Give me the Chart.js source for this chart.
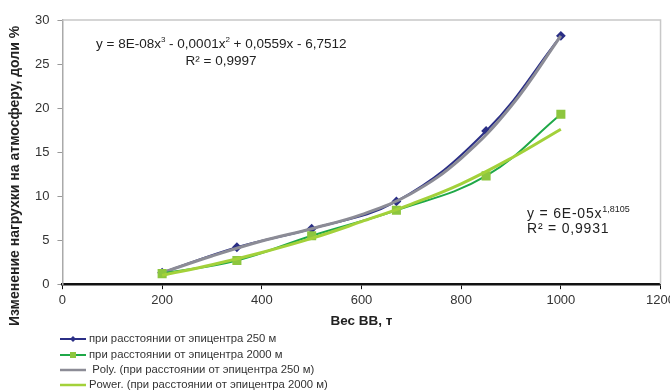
<!DOCTYPE html>
<html>
<head>
<meta charset="utf-8">
<script src="https://cdn.jsdelivr.net/npm/chart.js@4"></script>
<style>
  html, body { margin: 0; padding: 0; background: #fff; overflow: hidden; }
  #wrap { width: 678px; height: 390px; }
</style>
</head>
<body>
<div id="wrap"><canvas id="chart"></canvas></div>
<script>
// data
const weights = [200, 350, 500, 670, 850, 1000];
const load250 = [1.3, 4.2, 6.3, 9.4, 17.4, 28.2];
const load2000 = [1.2, 2.7, 5.5, 8.4, 12.3, 19.3];
const trendX = [200, 300, 400, 500, 600, 700, 800, 900, 1000];
const polyTrend = [1.3, 3.2, 4.9, 6.3, 7.9, 10.3, 14.3, 20.2, 28.2];
const powerTrend = [1.0, 2.2, 3.6, 5.2, 7.1, 9.1, 11.4, 14.3, 17.6];
const legendLabels = [
    'при расстоянии от эпицентра 250 м',
    'при расстоянии от эпицентра 2000 м',
    ' Poly. (при расстоянии от эпицентра 250 м)',
    'Power. (при расстоянии от эпицентра 2000 м)'
];
const yTitle = 'Изменение нагрухки на атмосферу, доли %';

const FONT = '"Liberation Sans", Arial, sans-serif';
const NAVY = '#2b2f86';
const GREEN = '#1fa848';
const LIME = '#8dc63f';
const GREY = '#8c8c96';
const LIMELINE = '#a3d13a';

function pts(xs, ys) {
    return xs.map((x, i) => ({x: x, y: ys[i]}));
}

function drawParts(c, parts, x, y, size, supSize, spacing) {
    parts.forEach(p => {
        c.font = (p[1] ? supSize : size) + 'px ' + FONT;
        c.letterSpacing = p[1] ? '0px' : spacing;
        c.fillText(p[0], x, p[1] ? y - size * 0.42 : y);
        x += c.measureText(p[0]).width;
    });
}

const extras = {
    id: 'extras',
    beforeDatasetsDraw(chart) {
        const c = chart.ctx, a = chart.chartArea;
        c.save();
        c.strokeStyle = '#c8c8c8';
        c.lineWidth = 1.5;
        c.beginPath();
        c.moveTo(a.left, a.top);
        c.lineTo(a.right, a.top);
        c.lineTo(a.right, a.bottom);
        c.stroke();
        c.restore();
    },
    afterDraw(chart) {
        const c = chart.ctx;
        c.save();
        // y axis title
        c.save();
        c.translate(15, 176);
        c.rotate(-Math.PI / 2);
        c.font = 'bold 14px ' + FONT;
        c.fillStyle = '#222';
        c.textAlign = 'center';
        c.textBaseline = 'middle';
        c.fillText(yTitle, 0, 0);
        c.restore();

        c.fillStyle = '#222';
        c.textBaseline = 'alphabetic';
        // polynomial equation
        drawParts(c, [['y = 8E-08x', 0], ['3', 1], [' - 0,0001x', 0], ['2', 1], [' + 0,0559x - 6,7512', 0]],
            96, 48, 13.5, 8, '0px');
        c.font = '13.5px ' + FONT;
        c.letterSpacing = '0px';
        c.textAlign = 'center';
        c.fillText('R² = 0,9997', 221, 65);
        // power equation
        c.textAlign = 'left';
        drawParts(c, [['y = 6E-05x', 0], ['1,8105', 1]], 527, 218, 14, 9, '0.8px');
        c.font = '14px ' + FONT;
        c.letterSpacing = '0.8px';
        c.fillText('R² = 0,9931', 527, 233);
        c.letterSpacing = '0px';
        // legend
        const rows = [339, 355, 370, 385];
        c.font = '11.3px ' + FONT;
        c.textBaseline = 'middle';
        rows.forEach((ry, i) => {
            const col = [NAVY, GREEN, GREY, LIMELINE][i];
            c.strokeStyle = col;
            c.lineWidth = i < 2 ? 2 : 2.5;
            c.beginPath();
            c.moveTo(60, ry);
            c.lineTo(86, ry);
            c.stroke();
            if (i === 0) {
                c.fillStyle = NAVY;
                c.beginPath();
                c.moveTo(73, ry - 3); c.lineTo(76, ry); c.lineTo(73, ry + 3); c.lineTo(70, ry);
                c.closePath(); c.fill();
            } else if (i === 1) {
                c.fillStyle = LIME;
                c.fillRect(70, ry - 3, 6, 6);
            }
            c.fillStyle = '#333';
            c.fillText(legendLabels[i], 89, ry);
        });
        c.restore();
    }
};

const ctx = document.getElementById('chart');
const myChart = new Chart(ctx, {
    type: 'scatter',
    data: {
        datasets: [{
            label: legendLabels[0],
            data: pts(weights, load250),
            showLine: true,
            tension: 0.4,
            borderColor: NAVY,
            borderWidth: 2,
            pointStyle: 'rectRot',
            pointRadius: 3.5,
            pointBackgroundColor: NAVY,
            pointBorderColor: NAVY,
            order: 4
        }, {
            label: legendLabels[1],
            data: pts(weights, load2000),
            showLine: true,
            tension: 0.4,
            borderColor: GREEN,
            borderWidth: 2,
            pointStyle: 'rect',
            pointRadius: 5,
            pointBackgroundColor: LIME,
            pointBorderColor: LIME,
            order: 2
        }, {
            label: legendLabels[2],
            data: pts(trendX, polyTrend),
            showLine: true,
            tension: 0.4,
            borderColor: GREY,
            borderWidth: 3,
            pointRadius: 0,
            order: 3
        }, {
            label: legendLabels[3],
            data: pts(trendX, powerTrend),
            showLine: true,
            tension: 0.4,
            borderColor: LIMELINE,
            borderWidth: 3,
            pointRadius: 0,
            order: 1
        }]
    },
    options: {
        responsive: true,
        maintainAspectRatio: false,
        animation: false,
        layout: {
            padding: {left: 27, right: 0, top: 20, bottom: 61}
        },
        scales: {
            x: {
                type: 'linear',
                min: 0,
                max: 1200,
                ticks: {
                    stepSize: 200,
                    color: '#333',
                    font: {family: FONT, size: 13},
                    padding: 3,
                    callback: v => String(v)
                },
                grid: {
                    drawOnChartArea: false,
                    color: '#111',
                    tickLength: 5,
                    lineWidth: 1
                },
                border: {color: '#111', width: 2.5},
                title: {
                    display: true,
                    text: 'Вес ВВ, т',
                    color: '#222',
                    font: {family: FONT, size: 13.5, weight: 'bold'},
                    padding: {top: 2, bottom: 0}
                }
            },
            y: {
                min: 0,
                max: 30,
                ticks: {
                    stepSize: 5,
                    color: '#333',
                    font: {family: FONT, size: 13},
                    padding: 8,
                    callback: v => String(v)
                },
                grid: {
                    drawOnChartArea: false,
                    color: '#999',
                    tickLength: 5
                },
                border: {color: '#aaa', width: 1.5}
            }
        },
        plugins: {
            legend: {display: false},
            tooltip: {enabled: false}
        }
    },
    plugins: [extras]
});
</script>
</body>
</html>
